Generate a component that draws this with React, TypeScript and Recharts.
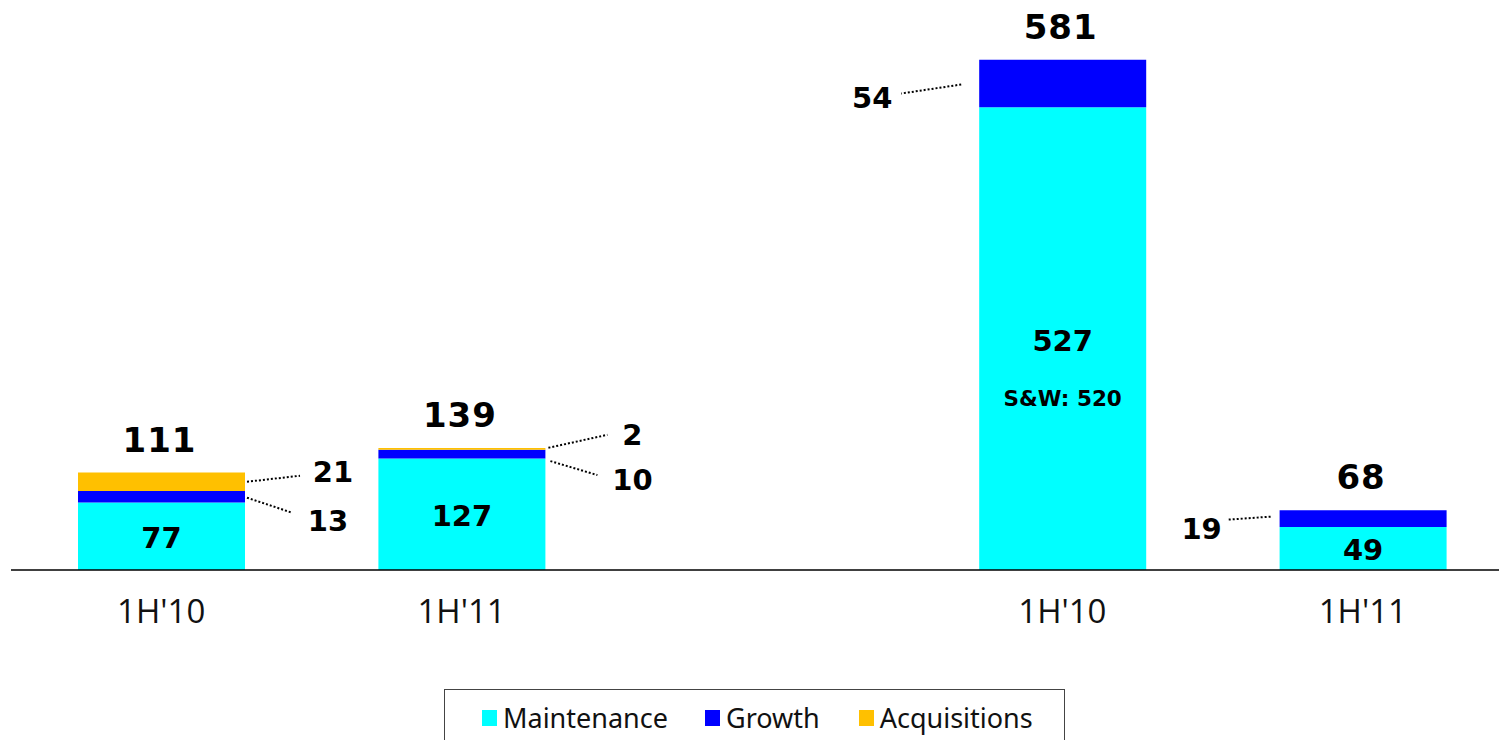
import React from "react";
import { BarChart, Bar, XAxis, YAxis, LabelList, Legend } from "recharts";

const categories = ["1H'10", "1H'11", "", "1H'10", "1H'11"];
const maintenance = [77, 127, 0, 527, 49];
const growth = [13, 10, 0, 54, 19];
const acquisitions = [21, 2, 0, 0, 0];
const notes = ["", "", "", "S&W: 520", ""];

const COLORS = { maintenance: "#00FFFF", growth: "#0000FF", acquisitions: "#FFC000" };

const data = categories.map((c, i) => ({
  idx: i,
  cat: c,
  maintenance: maintenance[i],
  growth: growth[i],
  acquisitions: acquisitions[i],
}));

const totals = categories.map((_, i) => maintenance[i] + growth[i] + acquisitions[i]);

// leader-line label placement (layout only), relative to the segment edge / middle
type Call = { side: "r" | "l"; x1: number; y1: number; x2: number; y2: number; lx: number; ly: number } | null;
const growthCallouts: Call[] = [
  { side: "r", x1: 2, y1: 1, x2: 47, y2: 16, lx: 83, ly: 24 },
  { side: "r", x1: 5, y1: 7, x2: 52, y2: 21, lx: 87, ly: 26 },
  null,
  { side: "l", x1: -18, y1: 1, x2: -78, y2: 10, lx: -107, ly: 14 },
  { side: "l", x1: -9, y1: -2, x2: -51, y2: 1, lx: -78, ly: 10 },
];
const acqCallouts: Call[] = [
  { side: "r", x1: 2, y1: 0, x2: 55, y2: -6, lx: 88, ly: -10 },
  { side: "r", x1: 3, y1: -1, x2: 62, y2: -14, lx: 87, ly: -14 },
  null,
  null,
  null,
];

const BOLD = "'DejaVu Sans', Verdana, sans-serif";

const renderCallout = (c: Call, edgeX: number, mid: number, value: number) => {
  if (!c) return null;
  return (
    <g>
      <line
        x1={edgeX + c.x1}
        y1={mid + c.y1}
        x2={edgeX + c.x2}
        y2={mid + c.y2}
        stroke="#000"
        strokeWidth={2}
        strokeDasharray="2 2"
      />
      <text
        x={edgeX + c.lx}
        y={mid + c.ly}
        textAnchor="middle"
        dominantBaseline="central"
        fontFamily={BOLD}
        fontWeight="bold"
        fontSize={29}
        fill="#000"
      >
        {value}
      </text>
    </g>
  );
};

const acqLabel = (props: any) => {
  const { x, y, width, height, value } = props;
  const i = Number(value);
  const c = acqCallouts[i];
  if (!c || !acquisitions[i]) return null;
  const mid = Number(y) + Number(height) / 2;
  const edge = c.side === "r" ? Number(x) + Number(width) : Number(x);
  return renderCallout(c, edge, mid, acquisitions[i]);
};

const growthLabel = (props: any) => {
  const { x, y, width, height, value } = props;
  const i = Number(value);
  if (!growth[i]) return null;
  const c = growthCallouts[i];
  const mid = Number(y) + Number(height) / 2;
  const edge = c && c.side === "l" ? Number(x) : Number(x) + Number(width);
  // total label above the whole stack (same linear scale: px per unit from this segment)
  const pxPerUnit = Number(height) / growth[i];
  const top = Number(y) - pxPerUnit * acquisitions[i];
  return (
    <g>
      {renderCallout(c, edge, mid, growth[i])}
      <text
        x={Number(x) + Number(width) / 2 - 2}
        y={top - 33}
        textAnchor="middle"
        dominantBaseline="central"
        fontFamily={BOLD}
        fontWeight="bold"
        fontSize={34}
        letterSpacing={1}
        fill="#000"
      >
        {totals[i]}
      </text>
    </g>
  );
};

const innerLabel = (props: any) => {
  const { x, y, width, height, value } = props;
  const i = Number(value);
  if (!maintenance[i]) return null;
  const cx = Number(x) + Number(width) / 2;
  const cy = Number(y) + Number(height) / 2;
  return (
    <g>
      <text
        x={cx}
        y={cy + 2}
        textAnchor="middle"
        dominantBaseline="central"
        fontFamily={BOLD}
        fontWeight="bold"
        fontSize={29}
        fill="#000"
      >
        {maintenance[i]}
      </text>
      {notes[i] ? (
        <text
          x={cx}
          y={cy + 60}
          textAnchor="middle"
          dominantBaseline="central"
          fontFamily={BOLD}
          fontWeight="bold"
          fontSize={21.5}
          fill="#000"
        >
          {notes[i]}
        </text>
      ) : null}
    </g>
  );
};

const CatTick = (props: any) => {
  const { x, y, payload } = props;
  return (
    <text
      x={x}
      y={y + 45}
      textAnchor="middle"
      fontFamily="'Open Sans', 'Noto Sans', sans-serif"
      fontSize={33}
      fill="#111"
    >
      {categories[payload.value]}
    </text>
  );
};

const legendItems = [
  { name: "Maintenance", color: COLORS.maintenance, mr: 37 },
  { name: "Growth", color: COLORS.growth, mr: 39 },
  { name: "Acquisitions", color: COLORS.acquisitions, mr: 0 },
];

const renderLegend = () => (
  <div
    style={{
      boxSizing: "border-box",
      width: 621,
      height: 70,
      border: "1.5px solid #444",
      background: "#fff",
      display: "flex",
      alignItems: "flex-start",
      paddingLeft: 37,
      paddingTop: 9,
      fontFamily: "'Noto Sans', 'Open Sans', sans-serif",
      fontSize: 27,
      color: "#111",
    }}
  >
    {legendItems.map((it) => (
      <div key={it.name} style={{ display: "flex", alignItems: "center", marginRight: it.mr }}>
        <span style={{ display: "inline-block", width: 15, height: 16, background: it.color, marginRight: 6 }} />
        <span>{it.name}</span>
      </div>
    ))}
  </div>
);

export default function App() {
  return (
    <div style={{ position: "absolute", left: 0, top: 0, width: 1499, height: 740, overflow: "hidden", background: "#fff" }}>
      <BarChart
        width={1514}
        height={740}
        data={data}
        margin={{ top: 8, left: 11, right: 1, bottom: 110 }}
        barSize={167}
      >
        <XAxis
          dataKey="idx"
          type="category"
          height={60}
          tickLine={false}
          tick={<CatTick />}
          axisLine={{ stroke: "#000", strokeWidth: 1.5 }}
          interval={0}
        />
        <YAxis hide domain={[0, 640]} />
        <Legend
          verticalAlign="middle"
          align="center"
          layout="horizontal"
          content={renderLegend}
          wrapperStyle={{ position: "absolute", left: 444, top: 689, width: 621, height: 70 }}
        />
        <Bar dataKey="maintenance" stackId="a" fill={COLORS.maintenance} isAnimationActive={false} name="Maintenance">
          <LabelList dataKey="idx" content={innerLabel} />
        </Bar>
        <Bar dataKey="growth" stackId="a" fill={COLORS.growth} isAnimationActive={false} name="Growth">
          <LabelList dataKey="idx" content={growthLabel} />
        </Bar>
        <Bar dataKey="acquisitions" stackId="a" fill={COLORS.acquisitions} isAnimationActive={false} name="Acquisitions">
          <LabelList dataKey="idx" content={acqLabel} />
        </Bar>
      </BarChart>
    </div>
  );
}
